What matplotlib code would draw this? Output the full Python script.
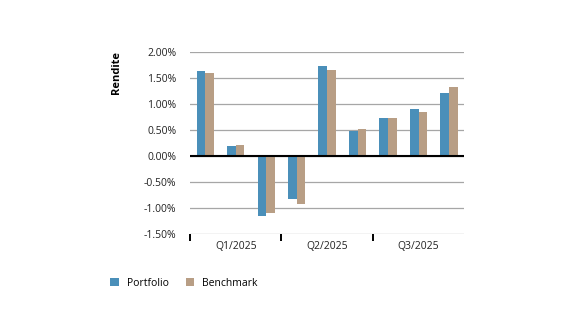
import matplotlib
matplotlib.use("Agg")
import matplotlib.pyplot as plt
import numpy as np

plt.rcParams["font.family"] = ["Open Sans", "DejaVu Sans"]

quarters = ["Q1/2025", "Q2/2025", "Q3/2025"]
months_per_quarter = 3
portfolio = [1.64, 0.19, -1.15, -0.83, 1.72, 0.48, 0.73, 0.90, 1.21]
benchmark = [1.59, 0.21, -1.10, -0.93, 1.65, 0.52, 0.73, 0.84, 1.32]
yticks = [-1.5, -1.0, -0.5, 0.0, 0.5, 1.0, 1.5, 2.0]

c_port = "#4a8fb9"
c_bench = "#b89e85"

fig = plt.figure(figsize=(5.76, 3.24), dpi=100)
ax = fig.add_axes([0.33, 0.278, 0.476, 0.562])

x = np.arange(len(portfolio)) + 0.5
w = 0.285
ax.bar(x - w / 2, portfolio, w, color=c_port, label="Portfolio", zorder=3)
ax.bar(x + w / 2, benchmark, w, color=c_bench, label="Benchmark", zorder=3)

ax.set_xlim(0, len(portfolio))
ax.set_ylim(yticks[0], yticks[-1])
ax.set_yticks(yticks)
ax.set_yticklabels([f"{v:.2f}%" for v in yticks], fontsize=7.5, color="#222222")
for v in yticks:
    ax.axhline(v, color="#a6a6a6", lw=0.9, zorder=1)
ax.axhline(0, color="black", lw=1.5, zorder=4)

for s in ax.spines.values():
    s.set_visible(False)
ax.tick_params(axis="y", length=0, pad=10)

# quarter boundaries as ticks, labels centred under each quarter
bounds = np.arange(len(quarters)) * months_per_quarter
ax.set_xticks(bounds)
ax.set_xticklabels([])
ax.tick_params(axis="x", length=5, width=1.4, color="black", direction="out")
ax.set_xticks(bounds + months_per_quarter / 2, minor=True)
ax.set_xticklabels(quarters, minor=True, fontsize=7.5, color="#222222")
ax.tick_params(axis="x", which="minor", length=0, pad=5)

ax.set_ylabel("Rendite", fontsize=8, fontweight="bold")
ax.yaxis.set_label_coords(-0.25, 0.885)

h, l = ax.get_legend_handles_labels()
fig.legend(h, l, loc="lower left", bbox_to_anchor=(0.175, 0.08), ncol=2,
           frameon=False, fontsize=7.5, handlelength=0.8, handleheight=0.8,
           columnspacing=1.6, handletextpad=0.8)

fig.savefig("out.png", dpi=100)
